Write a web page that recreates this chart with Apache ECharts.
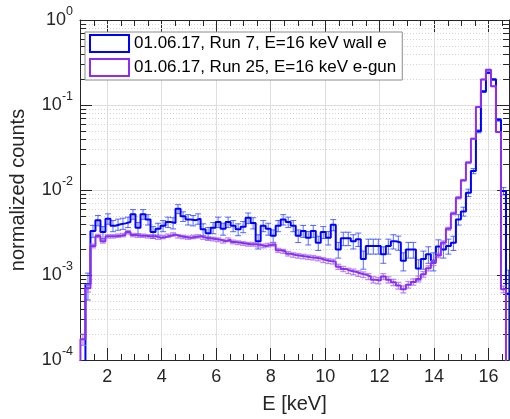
<!DOCTYPE html>
<html><head><meta charset="utf-8">
<script src="https://cdn.jsdelivr.net/npm/echarts@6/dist/echarts.min.js"></script>
<style>html,body{margin:0;padding:0;background:#fff}#c{width:510px;height:419px}</style>
</head><body><div id="c"></div>
<script>
// ---- data ----
const energyCentres = [1.108, 1.292, 1.476, 1.659, 1.843, 2.027, 2.211, 2.395, 2.578, 2.762,
  2.946, 3.130, 3.314, 3.497, 3.681, 3.865, 4.049, 4.233, 4.416, 4.600,
  4.784, 4.968, 5.152, 5.335, 5.519, 5.703, 5.887, 6.071, 6.254, 6.438,
  6.622, 6.806, 6.990, 7.173, 7.357, 7.541, 7.725, 7.909, 8.092, 8.276,
  8.460, 8.644, 8.828, 9.011, 9.195, 9.379, 9.563, 9.747, 9.930, 10.114,
  10.298, 10.482, 10.666, 10.849, 11.033, 11.217, 11.401, 11.585, 11.768, 11.952,
  12.136, 12.320, 12.504, 12.687, 12.871, 13.055, 13.239, 13.423, 13.606, 13.790,
  13.974, 14.158, 14.342, 14.525, 14.709, 14.893, 15.077, 15.261, 15.444, 15.628,
  15.812, 15.996, 16.180, 16.364, 16.547, 16.731];
const binWidth = 0.1838;

const wallCounts = [null, 7.8e-4, 3.3e-3, 4.4e-3, 3.2e-3, 4.6e-3, 3.8e-3, 3.95e-3, 4.05e-3, 4.2e-3,
  5.2e-3, 3.6e-3, 5.2e-3, 4.5e-3, 3.2e-3, 3.5e-3, 3.8e-3, 4.2e-3, 4.1e-3, 6.0e-3,
  4.9e-3, 4.5e-3, 4.4e-3, 4.6e-3, 3.45e-3, 3.1e-3, 3.6e-3, 4.2e-3, 3.5e-3, 4.2e-3,
  3.8e-3, 3.45e-3, 3.7e-3, 4.7e-3, 4.1e-3, 2.5e-3, 3.8e-3, 3.5e-3, 2.9e-3, 3.8e-3,
  4.5e-3, 4.2e-3, 3.8e-3, 2.9e-3, 3.3e-3, 2.75e-3, 3.3e-3, 2.4e-3, 3.2e-3, 2.75e-3,
  3.9e-3, 2.0e-3, 2.7e-3, 2.7e-3, 2.5e-3, 2.64e-3, 1.54e-3, 2.2e-3, 2.2e-3, 2.2e-3,
  1.76e-3, 2.2e-3, 2.5e-3, 2.41e-3, 1.47e-3, 2.0e-3, 2.0e-3, 1.19e-3, 1.54e-3, 1.76e-3,
  1.47e-3, 2.16e-3, 2.0e-3, 2.2e-3, 2.4e-3, 4.5e-3, 5.6e-3, 9.3e-3, 0.0167, 0.049,
  0.144, 0.24, 0.20, 0.067, 0.0097, 6.0e-4];
const wallRelErr = [0, 0.35, 0.16, 0.14, 0.16, 0.14, 0.15, 0.15, 0.15, 0.14,
  0.13, 0.15, 0.13, 0.14, 0.16, 0.16, 0.15, 0.14, 0.15, 0.12,
  0.13, 0.14, 0.14, 0.14, 0.16, 0.17, 0.15, 0.14, 0.16, 0.14,
  0.15, 0.16, 0.15, 0.14, 0.15, 0.19, 0.15, 0.16, 0.17, 0.15,
  0.14, 0.14, 0.15, 0.17, 0.16, 0.18, 0.16, 0.19, 0.16, 0.18,
  0.15, 0.21, 0.18, 0.18, 0.19, 0.18, 0.24, 0.20, 0.20, 0.20,
  0.22, 0.20, 0.19, 0.19, 0.24, 0.21, 0.21, 0.27, 0.24, 0.22,
  0.24, 0.20, 0.21, 0.20, 0.19, 0.14, 0.12, 0.10, 0.07, 0.04,
  0.025, 0.02, 0.02, 0.036, 0.10, 0.90];

const egunCounts = [1.75e-4, 7e-4, 2.2e-3, 2.88e-3, 2.5e-3, 2.85e-3, 2.85e-3, 2.9e-3, 2.95e-3, 3.2e-3,
  2.95e-3, 2.9e-3, 2.9e-3, 2.85e-3, 2.85e-3, 2.75e-3, 2.8e-3, 2.9e-3, 3.0e-3, 2.85e-3,
  2.8e-3, 2.75e-3, 2.8e-3, 2.85e-3, 2.75e-3, 2.7e-3, 2.65e-3, 2.6e-3, 2.5e-3, 2.6e-3,
  2.45e-3, 2.4e-3, 2.35e-3, 2.3e-3, 2.3e-3, 2.25e-3, 2.2e-3, 2.25e-3, 2.3e-3, 1.95e-3,
  1.9e-3, 1.78e-3, 1.72e-3, 1.68e-3, 1.65e-3, 1.62e-3, 1.6e-3, 1.56e-3, 1.5e-3, 1.46e-3,
  1.44e-3, 1.25e-3, 1.18e-3, 1.12e-3, 1.09e-3, 1.04e-3, 1.01e-3, 9.6e-4, 8.8e-4, 8.6e-4,
  9.6e-4, 8.8e-4, 8.2e-4, 7.5e-4, 6.8e-4, 7.7e-4, 8.3e-4, 9.0e-4, 1.02e-3, 1.2e-3,
  1.38e-3, 1.7e-3, 2.4e-3, 3.5e-3, 5.3e-3, 8.1e-3, 0.013, 0.021, 0.040, 0.095,
  0.20, 0.26, 0.166, 0.048, 6.8e-4, null];
const egunRelErr = [0.15, 0.10, 0.05, 0.045, 0.05, 0.045, 0.045, 0.045, 0.045, 0.045,
  0.045, 0.045, 0.045, 0.045, 0.045, 0.045, 0.045, 0.045, 0.045, 0.045,
  0.045, 0.045, 0.045, 0.045, 0.045, 0.045, 0.05, 0.05, 0.05, 0.05,
  0.05, 0.05, 0.05, 0.05, 0.05, 0.05, 0.05, 0.05, 0.05, 0.055,
  0.055, 0.06, 0.06, 0.06, 0.06, 0.06, 0.06, 0.06, 0.065, 0.065,
  0.065, 0.07, 0.07, 0.07, 0.075, 0.075, 0.075, 0.08, 0.085, 0.085,
  0.08, 0.085, 0.085, 0.09, 0.095, 0.09, 0.085, 0.08, 0.075, 0.07,
  0.065, 0.06, 0.05, 0.04, 0.035, 0.03, 0.022, 0.017, 0.012, 0.008,
  0.006, 0.005, 0.006, 0.011, 0.09, 0];

const seriesNames = ['01.06.17, Run 7, E=16 keV wall e', '01.06.17, Run 25, E=16 keV e-gun'];
const xAxisTitle = 'E [keV]';
const yAxisTitle = 'normalized counts';

// ---- layout / style ----
const X_MIN = 1, X_MAX = 16.75, Y_MIN = 1e-4, Y_MAX = 1, FLOOR = 1e-7;
const FONT = '"Liberation Sans", Arial, Helvetica, sans-serif';
const AXIS_COLOR = '#262626';
const WALL_COLOR = '#0000ff';
const EGUN_COLOR = '#8f2cf2';
const WALL_ERR_COLOR = 'rgba(30,60,255,0.75)';
const EGUN_ERR_COLOR = 'rgba(160,110,240,0.75)';

function stairs(counts) {
  const h = binWidth / 2;
  const pts = [[energyCentres[0] - h, FLOOR]];
  counts.forEach((c, i) => {
    const v = (c == null) ? FLOOR : c;
    pts.push([energyCentres[i] - h, v]);
    pts.push([energyCentres[i] + h, v]);
  });
  pts.push([energyCentres[energyCentres.length - 1] + h, FLOOR]);
  return pts;
}
function errData(counts, errs) {
  const out = [];
  counts.forEach((c, i) => { if (c != null && errs[i] > 0) out.push([energyCentres[i], c, errs[i]]); });
  return out;
}
function errRender(color, cap, width) {
  return function (params, api) {
    const x = api.value(0), v = api.value(1), e = api.value(2);
    const pt = api.coord([x, v * (1 + e)]);
    const pb = api.coord([x, Math.max(v * (1 - e), 1e-8)]);
    const style = { stroke: color, lineWidth: width };
    return { type: 'group', children: [
      { type: 'line', shape: { x1: pt[0], y1: pt[1], x2: pb[0], y2: pb[1] }, style },
      { type: 'line', shape: { x1: pt[0] - cap, y1: pt[1], x2: pt[0] + cap, y2: pt[1] }, style },
      { type: 'line', shape: { x1: pb[0] - cap, y1: pb[1], x2: pb[0] + cap, y2: pb[1] }, style }
    ]};
  };
}

// axis decoration: minor ticks (MATLAB style)
const yMinorValues = [];
for (let p = -4; p < 0; p++) for (let m = 2; m <= 9; m++) yMinorValues.push(m * Math.pow(10, p));
const xMinorValues = [];
for (let v = 1.5; v < X_MAX; v += 0.5) if (Math.abs(v / 2 - Math.round(v / 2)) > 1e-9) xMinorValues.push(v);

const chart = echarts.init(document.getElementById('c'), null, { renderer: 'canvas' });

const tickStyle = { show: true, inside: true, length: 12, lineStyle: { color: AXIS_COLOR, width: 1 } };
const axisLine = { show: true, lineStyle: { color: AXIS_COLOR, width: 1 } };

const option = {
  animation: false,
  backgroundColor: '#fff',
  grid: { left: 74, right: 1, top: 20, bottom: 58 },
  xAxis: [
    { type: 'value', min: X_MIN, max: X_MAX, splitNumber: 8, position: 'bottom',
      axisLine, axisTick: tickStyle,
      axisLabel: { margin: 8, color: AXIS_COLOR, fontSize: 18, fontFamily: FONT, showMinLabel: false, showMaxLabel: false },
      splitLine: { show: true, lineStyle: { color: '#dedede', width: 1 } },
      name: xAxisTitle, nameLocation: 'middle', nameGap: 34,
      nameTextStyle: { fontSize: 20, color: AXIS_COLOR, fontFamily: FONT } },
    { type: 'value', min: X_MIN, max: X_MAX, splitNumber: 8, position: 'top',
      axisLine, axisTick: tickStyle, axisLabel: { show: false }, splitLine: { show: false } }
  ],
  yAxis: [
    { type: 'log', logBase: 10, min: Y_MIN, max: Y_MAX, position: 'left',
      axisLine, axisTick: tickStyle,
      splitLine: { show: true, lineStyle: { color: '#dedede', width: 1 } },
      axisLabel: { margin: 7, padding: [0, 0, 6, 0],
        formatter: v => '{b|10}{s|' + Math.round(Math.log10(v)) + '}',
        rich: {
          b: { fontSize: 18, lineHeight: 24, verticalAlign: 'bottom', fontFamily: FONT, color: AXIS_COLOR },
          s: { fontSize: 12.5, lineHeight: 13, verticalAlign: 'top', fontFamily: FONT, color: AXIS_COLOR }
        } },
      name: yAxisTitle, nameLocation: 'middle', nameGap: 52,
      nameTextStyle: { fontSize: 20, color: AXIS_COLOR, fontFamily: FONT } },
    { type: 'log', logBase: 10, min: Y_MIN, max: Y_MAX, position: 'right',
      axisLine, axisTick: tickStyle, axisLabel: { show: false }, splitLine: { show: false } }
  ],
  legend: {
    left: 85, top: 32, orient: 'vertical', selectedMode: false,
    backgroundColor: '#fff', borderColor: '#8c8c8c', borderWidth: 1,
    padding: [2, 6, 3, 4], itemGap: 5, itemWidth: 39, itemHeight: 17,
    textStyle: { fontSize: 17, color: '#000', fontFamily: FONT, lineHeight: 18 },
    data: [
      { name: seriesNames[0], icon: 'rect', itemStyle: { color: '#fff', borderColor: WALL_COLOR, borderWidth: 2 } },
      { name: seriesNames[1], icon: 'rect', itemStyle: { color: '#fff', borderColor: EGUN_COLOR, borderWidth: 2 } }
    ]
  },
  series: [
    { type: 'custom', name: 'yMinor', silent: true, z: 1, clip: false,
      data: yMinorValues.map(v => [X_MIN, v]),
      renderItem: (params, api) => {
        const v = api.value(1);
        const a = api.coord([X_MIN, v]), b = api.coord([X_MAX, v]);
        const y = Math.round(a[1]) + 0.5;
        return { type: 'group', children: [
          { type: 'line', shape: { x1: a[0], y1: y, x2: b[0], y2: y }, style: { stroke: '#d4d4d4', lineWidth: 1, lineDash: [1, 2] } },
          { type: 'line', shape: { x1: a[0], y1: y, x2: a[0] + 6, y2: y }, style: { stroke: AXIS_COLOR, lineWidth: 1 } },
          { type: 'line', shape: { x1: b[0] - 6, y1: y, x2: b[0], y2: y }, style: { stroke: AXIS_COLOR, lineWidth: 1 } }
        ]};
      } },
    { type: 'custom', name: 'xMinor', silent: true, z: 1, clip: false,
      data: xMinorValues.map(v => [v, Y_MIN]),
      renderItem: (params, api) => {
        const v = api.value(0);
        const a = api.coord([v, Y_MIN]), b = api.coord([v, Y_MAX]);
        const x = Math.round(a[0]) + 0.5;
        return { type: 'group', children: [
          { type: 'line', shape: { x1: x, y1: a[1], x2: x, y2: a[1] - 6 }, style: { stroke: AXIS_COLOR, lineWidth: 1 } },
          { type: 'line', shape: { x1: x, y1: b[1], x2: x, y2: b[1] + 6 }, style: { stroke: AXIS_COLOR, lineWidth: 1 } }
        ]};
      } },
    { type: 'custom', name: seriesNames[0] + ' err', silent: true, z: 3, clip: true,
      data: errData(wallCounts, wallRelErr), renderItem: errRender(WALL_ERR_COLOR, 3, 1) },
    { type: 'line', name: seriesNames[0], z: 4, data: stairs(wallCounts), showSymbol: false, symbol: 'none',
      clip: true, color: WALL_COLOR, lineStyle: { color: WALL_COLOR, width: 2 }, silent: true },
    { type: 'custom', name: seriesNames[1] + ' err', silent: true, z: 5, clip: true,
      data: errData(egunCounts, egunRelErr), renderItem: errRender(EGUN_ERR_COLOR, 3, 1.3) },
    { type: 'line', name: seriesNames[1], z: 6, data: stairs(egunCounts), showSymbol: false, symbol: 'none',
      clip: true, color: EGUN_COLOR, lineStyle: { color: EGUN_COLOR, width: 2 }, silent: true }
  ]
};
chart.setOption(option);
</script></body></html>
